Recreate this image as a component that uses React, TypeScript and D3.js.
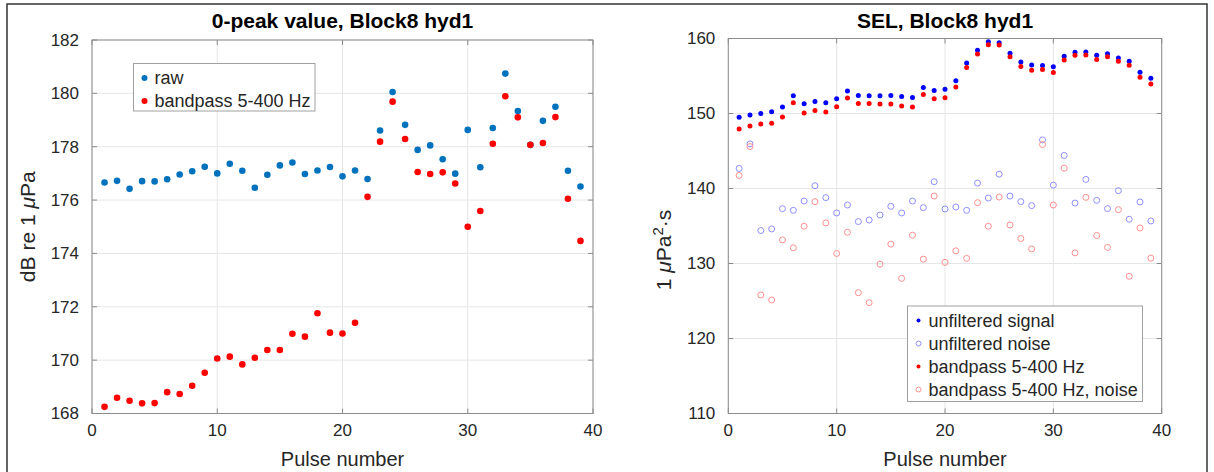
import React, { useEffect, useRef } from "react";
import * as d3 from "d3";

// pulse numbers
const pulses = [1, 2, 3, 4, 5, 6, 7, 8, 9, 10, 11, 12, 13, 14, 15, 16, 17, 18, 19, 20,
  21, 22, 23, 24, 25, 26, 27, 28, 29, 30, 31, 32, 33, 34, 35, 36, 37, 38, 39];

// left panel: 0-peak value (dB re 1 uPa)
const rawPeak = [176.66, 176.72, 176.42, 176.71, 176.70, 176.78, 176.96, 177.08, 177.25, 177.00,
  177.36, 177.10, 176.46, 176.95, 177.30, 177.41, 176.98, 177.11, 177.24, 176.89,
  177.11, 176.79, 178.61, 180.05, 178.82, 177.88, 178.05, 177.53, 176.99, 178.63,
  177.23, 178.70, 180.74, 179.34, 178.07, 178.97, 179.50, 177.10, 176.51];
const bandPeak = [168.25, 168.59, 168.48, 168.38, 168.39, 168.80, 168.73, 169.04, 169.53, 170.06,
  170.13, 169.84, 170.09, 170.38, 170.38, 170.99, 170.88, 171.76, 171.03, 171.00,
  171.40, 176.12, 178.19, 179.69, 178.29, 177.05, 176.98, 177.04, 176.62, 175.00,
  175.59, 178.11, 179.89, 179.10, 178.07, 178.14, 179.11, 176.05, 174.47];

// right panel: SEL
const selSignal = [149.49, 149.80, 150.01, 150.24, 150.86, 152.36, 151.30, 151.61, 151.43, 151.97,
  152.99, 152.41, 152.36, 152.36, 152.41, 152.27, 152.14, 153.47, 153.07, 153.25,
  154.36, 156.75, 158.43, 159.58, 159.44, 158.03, 156.88, 156.48, 156.39, 156.22,
  157.64, 158.17, 158.21, 157.77, 157.98, 157.41, 156.97, 155.51, 154.71];
const selNoise = [142.67, 145.95, 134.39, 134.61, 137.31, 137.09, 138.33, 140.37, 138.78, 136.74,
  137.80, 135.59, 135.80, 136.47, 137.62, 136.74, 138.33, 137.45, 140.90, 137.27,
  137.53, 137.09, 140.72, 138.73, 141.91, 138.99, 138.25, 137.72, 146.48, 140.45,
  144.40, 138.06, 141.21, 138.42, 137.32, 139.71, 135.90, 138.20, 135.67];
const selBand = [147.94, 148.34, 148.61, 148.69, 149.53, 151.43, 150.06, 150.41, 150.19, 150.90,
  152.06, 151.34, 151.34, 151.26, 151.26, 151.00, 150.86, 152.54, 151.97, 152.10,
  153.52, 156.12, 157.94, 159.18, 159.14, 157.58, 156.26, 155.78, 155.86, 155.46,
  157.14, 157.77, 157.81, 157.19, 157.58, 156.97, 156.44, 154.85, 153.92];
const selBandNoise = [141.74, 145.59, 125.80, 125.14, 133.15, 132.09, 134.97, 138.25, 135.41, 131.34,
  134.17, 126.11, 124.78, 129.92, 132.58, 128.02, 133.77, 130.58, 138.99, 130.15,
  131.69, 130.68, 138.11, 134.97, 138.86, 135.14, 133.33, 131.95, 145.86, 137.80,
  142.71, 131.42, 138.82, 133.73, 132.14, 137.18, 128.29, 134.74, 130.72];

const xTicks = [0, 10, 20, 30, 40];
const leftYTicks = [168, 170, 172, 174, 176, 178, 180, 182];
const rightYTicks = [110, 120, 130, 140, 150, 160];

const font = "'Liberation Sans', Arial, sans-serif";

function drawFrame(g, x, y, yTicks) {
  const [x0, x1] = x.range();
  const [y0, y1] = y.range();

  // grid
  g.selectAll(".vgrid").data(xTicks).enter().append("line")
    .attr("x1", d => x(d)).attr("x2", d => x(d))
    .attr("y1", y0).attr("y2", y1)
    .attr("stroke", "#e6e6e6");
  g.selectAll(".hgrid").data(yTicks).enter().append("line")
    .attr("x1", x0).attr("x2", x1)
    .attr("y1", d => y(d)).attr("y2", d => y(d))
    .attr("stroke", "#e6e6e6");

  // ticks inward, all four sides
  const tl = 5;
  xTicks.forEach(t => {
    g.append("line").attr("x1", x(t)).attr("x2", x(t)).attr("y1", y0).attr("y2", y0 - tl).attr("stroke", "#8c8c8c");
    g.append("line").attr("x1", x(t)).attr("x2", x(t)).attr("y1", y1).attr("y2", y1 + tl).attr("stroke", "#8c8c8c");
  });
  yTicks.forEach(t => {
    g.append("line").attr("x1", x0).attr("x2", x0 + tl).attr("y1", y(t)).attr("y2", y(t)).attr("stroke", "#8c8c8c");
    g.append("line").attr("x1", x1).attr("x2", x1 - tl).attr("y1", y(t)).attr("y2", y(t)).attr("stroke", "#8c8c8c");
  });

  g.append("rect")
    .attr("x", x0).attr("y", y1)
    .attr("width", x1 - x0).attr("height", y0 - y1)
    .attr("fill", "none").attr("stroke", "#8c8c8c");

  // tick labels
  g.selectAll(".xl").data(xTicks).enter().append("text")
    .attr("x", d => x(d)).attr("y", y0 + 22)
    .attr("text-anchor", "middle")
    .attr("font-size", 17).attr("fill", "#262626")
    .text(d => d);
  g.selectAll(".yl").data(yTicks).enter().append("text")
    .attr("x", x0 - 13).attr("y", d => y(d))
    .attr("dy", "0.35em")
    .attr("text-anchor", "end")
    .attr("font-size", 17).attr("fill", "#262626")
    .text(d => d);

  g.append("text")
    .attr("x", (x0 + x1) / 2).attr("y", y0 + 52)
    .attr("text-anchor", "middle")
    .attr("font-size", 20).attr("fill", "#262626")
    .text("Pulse number");
}

function drawLegend(g, box, items) {
  g.append("rect")
    .attr("x", box.x).attr("y", box.y).attr("width", box.w).attr("height", box.h)
    .attr("fill", "white").attr("stroke", "#a0a0a0");
  items.forEach((it, i) => {
    const cy = box.y + 14.5 + i * 23;
    const c = g.append("circle").attr("cx", box.x + 11).attr("cy", cy).attr("r", it.r);
    if (it.open) c.attr("fill", "none").attr("stroke", it.color);
    else c.attr("fill", it.color);
    g.append("text")
      .attr("x", box.x + 21).attr("y", cy).attr("dy", "0.35em")
      .attr("font-size", 18).attr("fill", "#262626")
      .text(it.label);
  });
}

export default function App() {
  const ref = useRef(null);

  useEffect(() => {
    const svg = d3.select(ref.current);
    svg.selectAll("*").remove();
    svg.attr("font-family", font);

    svg.append("rect").attr("width", 1214).attr("height", 472).attr("fill", "white");
    svg.append("rect")
      .attr("x", 7).attr("y", 4).attr("width", 1200).attr("height", 480)
      .attr("fill", "none").attr("stroke", "#333").attr("stroke-width", 1.5);

    // ---- left panel
    const xL = d3.scaleLinear().domain([0, 40]).range([92, 593]);
    const yL = d3.scaleLinear().domain([168, 182]).range([413.5, 40]);
    const gL = svg.append("g");
    drawFrame(gL, xL, yL, leftYTicks);

    gL.selectAll(".raw").data(rawPeak).enter().append("circle")
      .attr("cx", (d, i) => xL(pulses[i])).attr("cy", d => yL(d))
      .attr("r", 3.3).attr("fill", "#0072BD");
    gL.selectAll(".bp").data(bandPeak).enter().append("circle")
      .attr("cx", (d, i) => xL(pulses[i])).attr("cy", d => yL(d))
      .attr("r", 3.3).attr("fill", "#ff0000");

    gL.append("text")
      .attr("x", 342.5).attr("y", 27.5).attr("text-anchor", "middle")
      .attr("font-size", 21).attr("font-weight", "bold").attr("fill", "#000")
      .text("0-peak value, Block8 hyd1");

    const ylabL = gL.append("text")
      .attr("transform", `translate(35, ${(40 + 413.5) / 2}) rotate(-90)`)
      .attr("text-anchor", "middle")
      .attr("font-size", 21).attr("fill", "#262626");
    ylabL.append("tspan").text("dB re 1 ");
    ylabL.append("tspan").attr("font-style", "italic").text("μ");
    ylabL.append("tspan").text("Pa");

    drawLegend(gL, { x: 133.5, y: 63.5, w: 181.5, h: 47.5 }, [
      { label: "raw", color: "#0072BD", r: 3 },
      { label: "bandpass 5-400 Hz", color: "#ff0000", r: 3 }
    ]);

    // ---- right panel
    const xR = d3.scaleLinear().domain([0, 40]).range([728.3, 1161.7]);
    const yR = d3.scaleLinear().domain([110, 160]).range([413.5, 38.5]);
    const gR = svg.append("g");
    drawFrame(gR, xR, yR, rightYTicks);

    const openBlue = "#8f8fff";
    const openRed = "#ff8f8f";
    gR.selectAll(".bn").data(selNoise).enter().append("circle")
      .attr("cx", (d, i) => xR(pulses[i])).attr("cy", d => yR(d))
      .attr("r", 3).attr("fill", "none").attr("stroke", openBlue);
    gR.selectAll(".rn").data(selBandNoise).enter().append("circle")
      .attr("cx", (d, i) => xR(pulses[i])).attr("cy", d => yR(d))
      .attr("r", 3).attr("fill", "none").attr("stroke", openRed);
    gR.selectAll(".bs").data(selSignal).enter().append("circle")
      .attr("cx", (d, i) => xR(pulses[i])).attr("cy", d => yR(d))
      .attr("r", 2.5).attr("fill", "#0000ff");
    gR.selectAll(".rs").data(selBand).enter().append("circle")
      .attr("cx", (d, i) => xR(pulses[i])).attr("cy", d => yR(d))
      .attr("r", 2.5).attr("fill", "#ff0000");

    gR.append("text")
      .attr("x", 945).attr("y", 27.5).attr("text-anchor", "middle")
      .attr("font-size", 21).attr("font-weight", "bold").attr("fill", "#000")
      .text("SEL, Block8 hyd1");

    const ylabR = gR.append("text")
      .attr("transform", `translate(671, 250) rotate(-90)`)
      .attr("text-anchor", "middle")
      .attr("font-size", 21).attr("fill", "#262626");
    ylabR.append("tspan").text("1 ");
    ylabR.append("tspan").attr("font-style", "italic").text("μ");
    ylabR.append("tspan").text("Pa");
    ylabR.append("tspan").attr("font-size", 15).attr("dy", -8).text("2");
    ylabR.append("tspan").attr("dy", 8).text("·s");

    drawLegend(gR, { x: 907.5, y: 306, w: 235, h: 95.5 }, [
      { label: "unfiltered signal", color: "#0000ff", r: 2 },
      { label: "unfiltered noise", color: openBlue, r: 2.5, open: true },
      { label: "bandpass 5-400 Hz", color: "#ff0000", r: 2 },
      { label: "bandpass 5-400 Hz, noise", color: openRed, r: 2.5, open: true }
    ]);
  }, []);

  return (
    <div style={{ position: "absolute", left: 0, top: 0 }}>
      <svg ref={ref} width={1214} height={472} style={{ display: "block" }}></svg>
    </div>
  );
}
